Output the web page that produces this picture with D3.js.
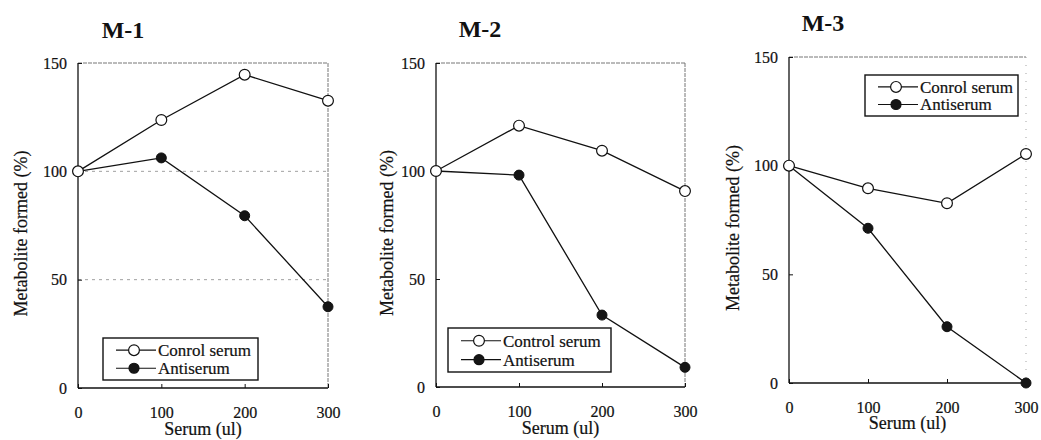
<!DOCTYPE html>
<html>
<head>
<meta charset="utf-8">
<script src="https://cdn.jsdelivr.net/npm/d3@7"></script>
<style>
  body { margin: 0; background: #fff; }
  svg { display: block; }
  svg text { font-family: "Liberation Serif", "Times New Roman", serif; fill: #111; }
</style>
</head>
<body>
<svg id="chart" width="1041" height="440"></svg>
<script>
// serum volume (ul) on the x axis
var serum = [0, 100, 200, 300];
var xTicks = [0, 100, 200, 300];
var yTicks = [0, 50, 100, 150];

// metabolite formed (%)
var m1Control = [100, 123.7, 144.6, 132.6];
var m1Anti    = [100, 106.2, 79.5, 37.5];
var m2Control = [100, 121.0, 109.4, 90.7];
var m2Anti    = [100, 98.1, 33.3, 9.1];
var m3Control = [100, 89.6, 82.7, 105.4];
var m3Anti    = [100, 71.2, 25.9, 0];

var panelTitles = ["M-1", "M-2", "M-3"];
var controlLabels = ["Conrol serum", "Control serum", "Conrol serum"];
var antiLabel = "Antiserum";
var xTitle = "Serum (ul)";
var yTitle = "Metabolite formed (%)";

var SERIF = "Liberation Serif";
var svg = d3.select("#chart");

// panel layout (pixels)
var panels = [
    { left: 78, right: 328, top: 63, bottom: 388, titleX: 123, titleY: 38,
      yTitleX: 21, legend: { x: 103, y: 338, w: 155, h: 42 },
      control: m1Control, anti: m1Anti, grid: [50, 100], xtY: 435, dottedRight: false },
    { left: 436, right: 685, top: 63, bottom: 387, titleX: 480, titleY: 37,
      yTitleX: 387, legend: { x: 448, y: 328, w: 163, h: 44 },
      control: m2Control, anti: m2Anti, grid: [], xtY: 434, dottedRight: false },
    { left: 789, right: 1026, top: 57, bottom: 383, titleX: 823, titleY: 31,
      yTitleX: 733, legend: { x: 865, y: 75, w: 153, h: 41 },
      control: m3Control, anti: m3Anti, grid: [], xtY: 429, dottedRight: true }
];

panels.forEach(function (p, i) {
    var x = d3.scaleLinear().domain([0, 300]).range([p.left, p.right]);
    var y = d3.scaleLinear().domain([0, 150]).range([p.bottom, p.top]);
    var g = svg.append("g").attr("class", "panel-" + i);

    // title
    g.append("text")
        .attr("x", p.titleX).attr("y", p.titleY)
        .attr("text-anchor", "middle")
        .attr("font-family", SERIF)
        .attr("font-size", 24).attr("font-weight", "bold")
        .text(panelTitles[i]);

    // faint scanned grid lines
    g.selectAll(".grid").data(p.grid).enter()
        .append("line")
        .attr("x1", p.left).attr("x2", p.right)
        .attr("y1", function (d) { return y(d); })
        .attr("y2", function (d) { return y(d); })
        .style("stroke", "#888").style("stroke-width", 0.8)
        .style("stroke-dasharray", "3,4");

    // top and right frame (light, dashed)
    g.append("line")
        .attr("x1", p.left).attr("x2", p.right)
        .attr("y1", p.top).attr("y2", p.top)
        .style("stroke", "#666").style("stroke-width", 0.9)
        .style("stroke-dasharray", "4,1");
    g.append("line")
        .attr("x1", p.right).attr("x2", p.right)
        .attr("y1", p.top).attr("y2", p.bottom)
        .style("stroke", p.dottedRight ? "#999" : "#666")
        .style("stroke-width", 0.9)
        .style("stroke-dasharray", p.dottedRight ? "1,7" : "4,1");

    // axes
    var xAxis = d3.axisBottom(x).tickValues(xTicks).tickSize(-4).tickPadding(19)
        .tickFormat(d3.format("d"));
    var yAxis = d3.axisLeft(y).tickValues(yTicks).tickSize(-4).tickPadding(11)
        .tickFormat(d3.format("d"));
    var gx = g.append("g").attr("transform", "translate(0," + p.bottom + ")").call(xAxis);
    var gy = g.append("g").attr("transform", "translate(" + p.left + ",0)").call(yAxis);
    [gx, gy].forEach(function (a) {
        a.attr("font-family", SERIF).attr("font-size", 16);
        a.select(".domain").remove();
        a.selectAll(".tick line").style("stroke", "#111").style("stroke-width", 1);
        a.selectAll(".tick text")
            .style("font-family", SERIF)
            .style("font-size", "16px").style("fill", "#111")
            .style("stroke", "#111").style("stroke-width", 0.2);
    });

    // solid left and bottom axis lines
    g.append("line")
        .attr("x1", p.left).attr("x2", p.left)
        .attr("y1", p.top).attr("y2", p.bottom)
        .style("stroke", "#111").style("stroke-width", 1.3);
    g.append("line")
        .attr("x1", p.left).attr("x2", p.right)
        .attr("y1", p.bottom).attr("y2", p.bottom)
        .style("stroke", "#111").style("stroke-width", 1.3);

    // axis titles
    g.append("text")
        .attr("x", (p.left + p.right) / 2).attr("y", p.xtY)
        .attr("text-anchor", "middle")
        .attr("font-family", SERIF).attr("font-size", 18)
        .style("stroke", "#111").style("stroke-width", 0.2)
        .text(xTitle);
    g.append("text")
        .attr("transform", "translate(" + p.yTitleX + "," + ((p.top + p.bottom) / 2 + 8) + ") rotate(-90)")
        .attr("text-anchor", "middle").attr("dy", "0.35em")
        .attr("font-family", SERIF).attr("font-size", 18)
        .style("stroke", "#111").style("stroke-width", 0.2)
        .text(yTitle);

    // series
    var line = d3.line()
        .x(function (d, j) { return x(serum[j]); })
        .y(function (d) { return y(d); });

    [p.anti, p.control].forEach(function (series) {
        g.append("path").datum(series)
            .attr("d", line)
            .style("fill", "none").style("stroke", "#111").style("stroke-width", 1.3);
    });
    g.selectAll(".anti").data(p.anti).enter()
        .append("circle").attr("class", "anti")
        .attr("cx", function (d, j) { return x(serum[j]); })
        .attr("cy", function (d) { return y(d); })
        .attr("r", 5)
        .style("fill", "#151515").style("stroke", "#111");
    g.selectAll(".ctrl").data(p.control).enter()
        .append("circle").attr("class", "ctrl")
        .attr("cx", function (d, j) { return x(serum[j]); })
        .attr("cy", function (d) { return y(d); })
        .attr("r", 5.4)
        .style("fill", "#fff").style("stroke", "#111").style("stroke-width", 1.2);

    // legend
    var L = p.legend;
    var lg = g.append("g").attr("transform", "translate(" + L.x + "," + L.y + ")");
    lg.append("rect")
        .attr("width", L.w).attr("height", L.h)
        .style("fill", "#fff").style("stroke", "#111").style("stroke-width", 1.4);
    var rows = [
        { label: controlLabels[i], filled: false },
        { label: antiLabel, filled: true }
    ];
    var rowY = [L.h * 0.29, L.h * 0.72];
    rows.forEach(function (r, k) {
        var ly = rowY[k];
        lg.append("line")
            .attr("x1", 13).attr("x2", 53).attr("y1", ly).attr("y2", ly)
            .style("stroke", "#111").style("stroke-width", 1.2);
        lg.append("circle")
            .attr("cx", 31).attr("cy", ly).attr("r", r.filled ? 5 : 5.4)
            .style("fill", r.filled ? "#151515" : "#fff")
            .style("stroke", "#111").style("stroke-width", 1.2);
        lg.append("text")
            .attr("x", 55).attr("y", ly).attr("dy", "0.35em")
            .attr("font-family", SERIF).attr("font-size", 17)
            .style("stroke", "#111").style("stroke-width", 0.2)
            .text(r.label);
    });
});
</script>
</body>
</html>
